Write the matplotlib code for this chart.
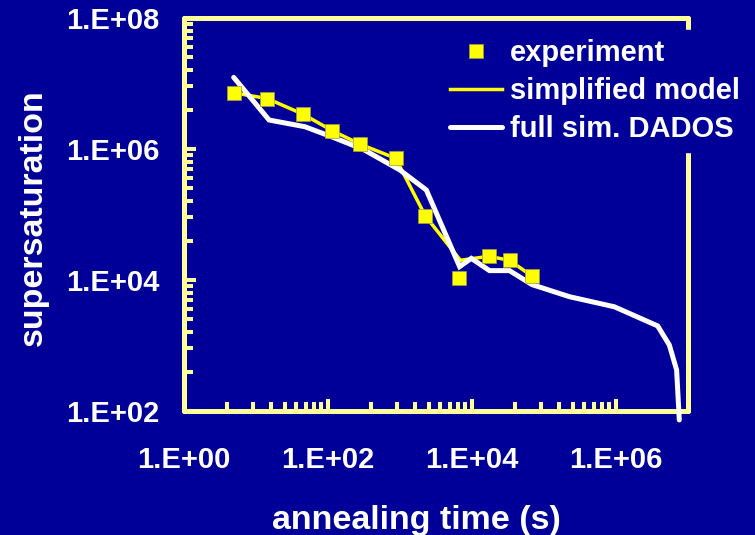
import numpy as np
import matplotlib
matplotlib.use("Agg")
import matplotlib.pyplot as plt
from matplotlib.ticker import FixedLocator, FuncFormatter, NullFormatter

# experiment (yellow squares)
exp_t = [4.9, 14.3, 45, 115, 282, 872, 2250, 6580, 17100, 33200, 67800]
exp_s = [7.2e6, 5.9e6, 3.4e6, 1.9e6, 1.18e6, 7.2e5, 9.5e4, 1.08e4, 2.3e4, 2.0e4, 1.15e4]

# simplified model (yellow line)
mod_t = [4.9, 14.3, 45, 115, 282, 872, 2250, 6900, 17100, 33200, 67800]
mod_s = [7.2e6, 5.9e6, 3.4e6, 1.9e6, 1.18e6, 7.2e5, 9.5e4, 2.0e4, 2.3e4, 2.0e4, 1.15e4]

# full sim. DADOS (white line)
sim_t = [4.9, 15.2, 47.7, 112, 307, 990, 2320, 6730, 9780, 17500, 33200,
         68200, 2.26e5, 9.5e5, 3.79e6, 5.5e6, 6.95e6, 7.57e6]
sim_s = [1.24e7, 2.77e6, 2.19e6, 1.54e6, 9.9e5, 4.8e5, 2.37e5, 1.6e4, 2.14e4, 1.39e4, 1.39e4,
         8.5e3, 5.56e3, 3.9e3, 1.99e3, 1.02e3, 423, 73]

x_major = [1, 1e2, 1e4, 1e6]
y_major = [1e2, 1e4, 1e6, 1e8]
x_groups = [1, 1e2, 1e4]
y_groups = [1e2, 1e4, 1e6]
k = np.arange(2, 10)

bg = "#000099"
frame = "#FFFF99"
yel = "#FFFF00"

plt.rcParams['font.family'] = ['Liberation Sans', 'DejaVu Sans']
plt.rcParams['font.weight'] = 'bold'

fig = plt.figure(figsize=(7.55, 5.35), dpi=100, facecolor=bg)
ax = fig.add_axes([184/755, 1-411/535, 504/755, 393/535], facecolor=bg)

ax.plot(mod_t, mod_s, color=yel, lw=2.5, zorder=2, label='simplified model')
ax.plot(sim_t, sim_s, color='white', lw=3.6, solid_capstyle='round',
        solid_joinstyle='miter', zorder=3, clip_on=False, label='full sim. DADOS')
ax.plot(exp_t, exp_s, 's', color=yel, ms=10, mec='#a0a040', mew=0.5,
        zorder=4, label='experiment')

ax.set_xscale('log')
ax.set_yscale('log')
ax.set_xlim(1, 1e7)
ax.set_ylim(1e2, 1e8)

fmt = FuncFormatter(lambda v, p: "1.E+%02d" % int(round(np.log10(v))))
ax.xaxis.set_major_locator(FixedLocator(x_major))
ax.yaxis.set_major_locator(FixedLocator(y_major))
ax.xaxis.set_minor_locator(FixedLocator([m * kk**2 for m in x_groups for kk in k]))
ax.yaxis.set_minor_locator(FixedLocator([m * kk**2 for m in y_groups for kk in k]))
ax.xaxis.set_major_formatter(fmt)
ax.yaxis.set_major_formatter(fmt)
ax.xaxis.set_minor_formatter(NullFormatter())
ax.yaxis.set_minor_formatter(NullFormatter())

ax.tick_params(which='both', direction='in', color=frame, width=2.9,
               labelcolor='white', labelsize=21)
ax.tick_params(which='major', length=8.6)
ax.tick_params(which='minor', length=6.5)
ax.tick_params(axis='x', pad=25)
ax.tick_params(axis='y', pad=18)

for s in ax.spines.values():
    s.set_color(frame)
    s.set_linewidth(3.6)
    s.set_capstyle('round')

ax.set_xlabel('annealing time (s)', fontsize=24.5, color='white', fontweight='bold')
ax.set_ylabel('supersaturation', fontsize=24.5, color='white', fontweight='bold')
ax.xaxis.set_label_coords((416-184)/504, (411-520)/393)
ax.xaxis.label.set_va('center')
ax.yaxis.set_label_coords((33-184)/504, (411-218)/393)
ax.yaxis.label.set_va('center')

h, l = ax.get_legend_handles_labels()
order = [2, 0, 1]
leg = ax.legend([h[i] for i in order], [l[i] for i in order],
                loc='upper left', bbox_to_anchor=(441/755, 1-30/535),
                bbox_transform=fig.transFigure, borderaxespad=0,
                fontsize=21, frameon=True, facecolor=bg, edgecolor=bg,
                framealpha=1, fancybox=False, borderpad=0.3,
                handlelength=1.8, handletextpad=0.25, labelspacing=0.35)
leg.set_zorder(6)
for t in leg.get_texts():
    t.set_color('white')
    t.set_fontweight('bold')

fig.savefig('out.png', dpi=100, facecolor=bg)
